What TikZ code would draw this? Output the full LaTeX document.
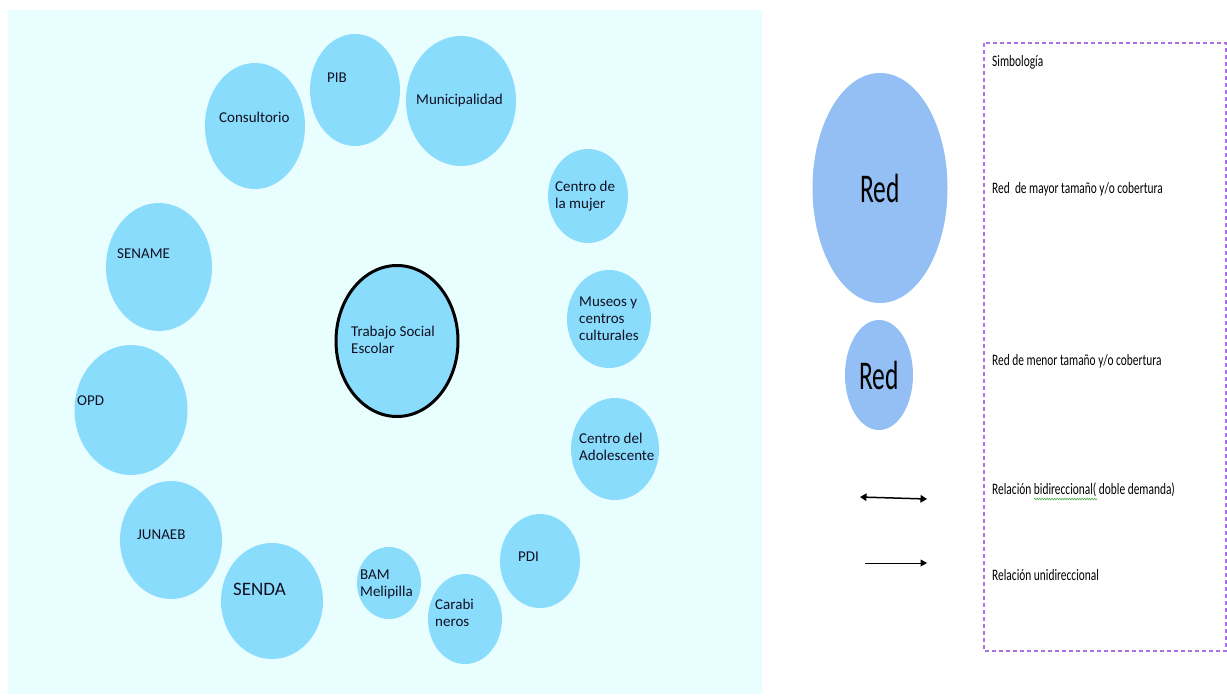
\documentclass[tikz,border=0pt]{standalone}
\usepackage{fontspec}
\setmainfont{Carlito}
\usetikzlibrary{shapes.geometric,arrows.meta,decorations.pathmorphing}
\definecolor{bgcyan}{HTML}{E9FEFE}
\definecolor{netblue}{HTML}{8ADCFD}
\definecolor{legblue}{HTML}{93BFF5}
\definecolor{dashviolet}{HTML}{A873E8}
\definecolor{spellgreen}{HTML}{4CAF50}
\definecolor{txt}{HTML}{101020}
\newcommand\legtext[1]{\scalebox{1}[1.4]{#1}}
\newcommand\bigred{\scalebox{1}[1.6]{\fontsize{25.5}{30}\selectfont Red}}
\begin{document}
\begin{tikzpicture}[x=1pt,y=-1pt,
  net/.style={ellipse,fill=netblue,inner sep=0pt},
  legnet/.style={ellipse,fill=legblue,inner sep=0pt},
  lbl/.style={anchor=west,align=left,inner sep=0pt,text=txt,font=\fontsize{15}{17}\selectfont},
  leg/.style={anchor=west,align=left,inner sep=0pt,font=\fontsize{11.4}{13}\selectfont},
  tip/.style={Triangle[length=6.5pt,width=7.5pt]},
  arr/.style={-{Triangle[length=6.5pt,width=7pt]},black}]
\useasboundingbox (0,0) rectangle (1227,696);
\fill[white] (0,0) rectangle (1227,696);
\fill[bgcyan] (8,10) rectangle (762,694);

% network ellipses
\node[net,minimum width=100,minimum height=126] (consultorio) at (255,126) {};
\node[net,minimum width=90,minimum height=112] (pib) at (355,90) {};
\node[net,minimum width=110,minimum height=130] (muni) at (461,101) {};
\node[net,minimum width=80,minimum height=94] (mujer) at (588,196) {};
\node[net,minimum width=84,minimum height=98] (museos) at (609,319) {};
\node[net,minimum width=88,minimum height=102] (adolescente) at (615,449) {};
\node[net,minimum width=80,minimum height=94] (pdi) at (540,561) {};
\node[net,minimum width=74,minimum height=90] (carab) at (465,619) {};
\node[net,minimum width=64,minimum height=72] (bam) at (389,583) {};
\node[net,minimum width=102,minimum height=116] (senda) at (272,601) {};
\node[net,minimum width=102,minimum height=118] (junaeb) at (171,540) {};
\node[net,minimum width=113,minimum height=130] (opd) at (131,410) {};
\node[net,minimum width=106,minimum height=128] (sename) at (159,267) {};
\node[net,draw=black,line width=3pt,minimum width=122,minimum height=151] (tse) at (397,341) {};

% labels
\node[lbl] (tconsultorio) at (219,117) {Consultorio};
\node[lbl] (tpib) at (327,78) {PIB};
\node[lbl] (tmuni) at (416,100) {Municipalidad};
\node[lbl] (tmujer) at (555,196) {Centro de\\la mujer};
\node[lbl] (tmuseos) at (579,319) {Museos y\\centros\\culturales};
\node[lbl] (tadolescente) at (579,447) {Centro del\\Adolescente};
\node[lbl] (tpdi) at (518,557) {PDI};
\node[lbl] (tcarab) at (435,613) {Carabi\\neros};
\node[lbl] (tbam) at (360,584) {BAM\\Melipilla};
\node[lbl,font=\fontsize{19}{22}\selectfont] (tsenda) at (233,589) {SENDA};
\node[lbl] (tjunaeb) at (137,535) {JUNAEB};
\node[lbl] (topd) at (77,401) {OPD};
\node[lbl] (tsename) at (117,254) {SENAME};
\node[lbl] (ttse) at (351,340) {Trabajo Social\\Escolar};

% legend
\draw[dashviolet,line width=1.2pt,dash pattern=on 4pt off 3pt] (984,43) rectangle (1226,651);
\node[legnet,minimum width=135,minimum height=230] (bigred) at (880,188) {\bigred};
\node[legnet,minimum width=68,minimum height=110] (smallred) at (879,375) {\bigred};

\coordinate (b1) at (860,497);
\coordinate (b2) at (927,499);
\draw[line width=1.5pt,{Triangle[length=6.5pt,width=7.5pt]}-{Triangle[length=6.5pt,width=7.5pt]}] (b1) -- (b2);
\coordinate (u1) at (865,563);
\coordinate (u2) at (927,563);
\draw[arr,line width=1pt] (u1) -- (u2);

\node[leg] (simb) at (992,62) {\legtext{Simbología}};
\node[leg] (lmayor) at (992,189) {\legtext{Red~ de mayor tamaño y/o cobertura}};
\node[leg] (lmenor) at (992,361) {\legtext{Red de menor tamaño y/o cobertura}};
\node[leg] (lbid) at (992,490) {\legtext{Relación bidireccional( doble demanda)}};
\node[leg] (luni) at (992,575) {\legtext{Relación unidireccional}};
\draw[spellgreen,line width=0.6pt,decorate,decoration={zigzag,amplitude=0.8pt,segment length=2.5pt}] (1034,499) -- (1097,499);
\end{tikzpicture}
\end{document}
